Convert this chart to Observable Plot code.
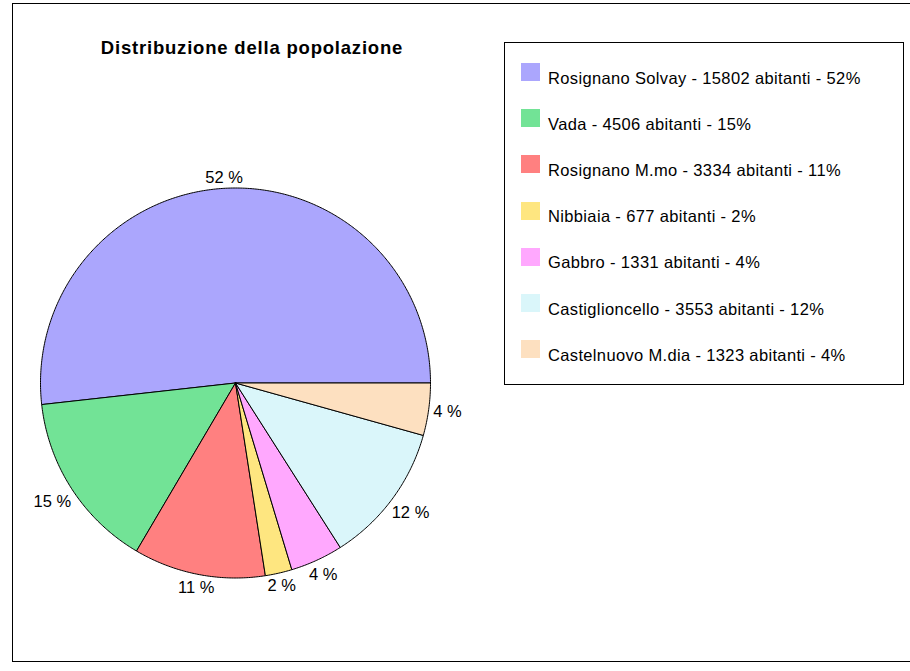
<!DOCTYPE html>
<html>
<head>
<meta charset="utf-8">
<script src="https://cdn.jsdelivr.net/npm/d3@7"></script>
<script src="https://cdn.jsdelivr.net/npm/@observablehq/plot@0.6"></script>
<style>
  html, body { margin: 0; padding: 0; background: #fff; }
  #wrap { position: relative; width: 910px; height: 671px; overflow: hidden; font-family: "Liberation Sans", Arial, sans-serif; color: #000; }
  #frame { position: absolute; left: 12px; top: 3px; width: 910px; height: 659px; border: 1px solid #000; box-sizing: border-box; }
  #chart { position: absolute; left: 0; top: 0; }
  #title { position: absolute; left: 0; top: 38.6px; width: 504px; text-align: center; font-weight: bold; font-size: 18.5px; line-height: 18.5px; letter-spacing: 0.8px; white-space: nowrap; }
  #legend { position: absolute; left: 504px; top: 42px; width: 400px; height: 343px; border: 1px solid #000; box-sizing: border-box; }
  .item { position: absolute; left: 0; height: 20px; }
  .sw { position: absolute; left: 16px; top: 0; width: 19px; height: 18px; }
  .lab { position: absolute; left: 43px; top: 6.7px; font-size: 16.5px; line-height: 16.5px; letter-spacing: 0.35px; white-space: nowrap; }
</style>
</head>
<body>
<div id="wrap">
  <div id="frame"></div>
  <div id="chart"></div>
  <div id="title"></div>
  <div id="legend"></div>
</div>
<script>
// ---- data ----
const titleText = "Distribuzione della popolazione";
const names = ["Rosignano Solvay", "Vada", "Rosignano M.mo", "Nibbiaia", "Gabbro", "Castiglioncello", "Castelnuovo M.dia"];
const population = [15802, 4506, 3334, 677, 1331, 3553, 1323];
const colors = ["#aba6fd", "#72e396", "#ff8080", "#fee680", "#ffa8fe", "#daf6fa", "#fde0c0"];
const unitLabel = "abitanti";

// ---- layout ----
const W = 910, H = 671;
const cx = 235, cy = 382.5, R = 195;

const total = d3.sum(population);
const pct = population.map(v => Math.round(v / total * 100));

// slices counterclockwise from east (data space: y up, unit radius)
const slicePts = [];
const labels = [];
let a0 = 0;
population.forEach((v, i) => {
  const span = v / total * 2 * Math.PI;
  const a1 = a0 + span;
  const n = Math.max(2, Math.ceil(span / (Math.PI / 360)) + 1);
  slicePts.push({name: names[i], color: colors[i], x: 0, y: 0});
  for (let k = 0; k < n; k++) {
    const a = a0 + span * k / (n - 1);
    slicePts.push({name: names[i], color: colors[i], x: Math.cos(a), y: Math.sin(a)});
  }
  slicePts.push({name: names[i], color: colors[i], x: 0, y: 0});
  const am = (a0 + a1) / 2;
  const txt = pct[i] + " %";
  const w = 9.5 * txt.length, h = 12;
  const rpx = R + 4 + Math.abs(Math.cos(am)) * w / 2 + Math.abs(Math.sin(am)) * h / 2;
  labels.push({text: txt, x: Math.cos(am) * rpx / R, y: Math.sin(am) * rpx / R});
  a0 = a1;
});

const chart = Plot.plot({
  width: W,
  height: H,
  margin: 0,
  x: {domain: [(0 - cx) / R, (W - cx) / R], axis: null},
  y: {domain: [(cy - H) / R, cy / R], axis: null},
  color: {type: "identity"},
  style: {background: "transparent", fontFamily: "'Liberation Sans', Arial, sans-serif"},
  marks: [
    Plot.line(slicePts, {x: "x", y: "y", z: "name", fill: "color", stroke: "#000", strokeWidth: 1, curve: "linear", strokeLinejoin: "miter"}),
    Plot.text(labels, {x: "x", y: "y", text: "text", fontSize: 16.5, fill: "#000", textAnchor: "middle", lineAnchor: "middle", style: "letter-spacing:0.3px"})
  ]
});
document.getElementById("chart").appendChild(chart);

document.getElementById("title").textContent = titleText;

const legend = document.getElementById("legend");
const step = 46.2;
names.forEach((nm, i) => {
  const item = document.createElement("div");
  item.className = "item";
  item.style.top = (20 + i * step) + "px";
  const sw = document.createElement("div");
  sw.className = "sw";
  sw.style.background = colors[i];
  const lab = document.createElement("div");
  lab.className = "lab";
  lab.textContent = `${nm} - ${population[i]} ${unitLabel} - ${pct[i]}%`;
  item.appendChild(sw);
  item.appendChild(lab);
  legend.appendChild(item);
});
</script>
</body>
</html>
